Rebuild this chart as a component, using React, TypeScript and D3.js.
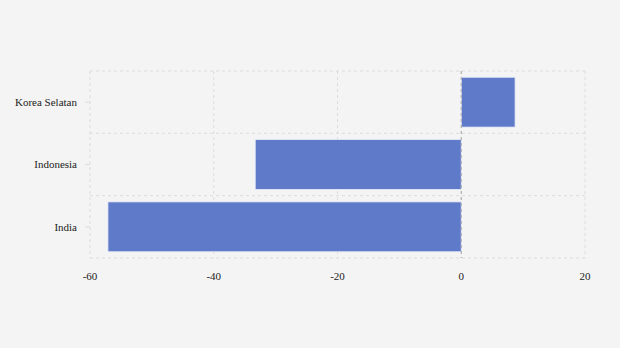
import React from "react";
import * as d3 from "d3";

const categories = ["Korea Selatan", "Indonesia", "India"];
const values = [8.7, -33.3, -57.1];
const xTicks = [-60, -40, -20, 0, 20];

export default function App() {
  const W = 620, H = 348;
  const left = 90, right = 585, top = 71, bottom = 258;
  const x = d3.scaleLinear().domain([-60, 20]).range([left, right]);
  const y = d3.scaleBand<string>().domain(categories).range([top, bottom]).paddingInner(0.2).paddingOuter(0.1);
  const step = y.step();
  const bounds = categories.map((_, i) => top + i * step).concat([bottom]);
  return (
    <svg width={W} height={H} style={{ position: "absolute", left: 0, top: 0, background: "#f4f4f4" }} fontFamily="'Liberation Serif', serif">
      <rect x={0} y={0} width={W} height={H} fill="#f4f4f4" />
      {bounds.map((b, i) => (
        <line key={"h" + i} x1={left} x2={right} y1={b} y2={b} stroke="#dcdcdc" strokeDasharray="3,3" />
      ))}
      {xTicks.map((t) => (
        <line key={"v" + t} x1={x(t)} x2={x(t)} y1={top} y2={bottom} stroke="#dcdcdc" strokeDasharray="3,3" />
      ))}
      {categories.map((c, i) => {
        const v = values[i];
        const x0 = x(Math.min(0, v));
        const x1 = x(Math.max(0, v));
        return (
          <rect key={c} x={x0} y={y(c)} width={x1 - x0} height={y.bandwidth()} fill="#5f7ac9" stroke="#e8ecf8" strokeWidth={0.8} />
        );
      })}
      <line x1={x(0)} x2={x(0)} y1={top} y2={bottom} stroke="#a8a8a8" strokeDasharray="3,3" />
      {categories.map((c) => (
        <g key={"t" + c}>
          <line x1={left - 5} x2={left} y1={y(c)! + y.bandwidth() / 2} y2={y(c)! + y.bandwidth() / 2} stroke="#dcdcdc" />
          <text x={77} y={y(c)! + y.bandwidth() / 2} dy="0.35em" textAnchor="end" fontSize={11} fill="#222">{c}</text>
        </g>
      ))}
      {xTicks.map((t) => (
        <text key={"xl" + t} x={x(t)} y={280} textAnchor="middle" fontSize={11} fill="#222">{t}</text>
      ))}
    </svg>
  );
}
